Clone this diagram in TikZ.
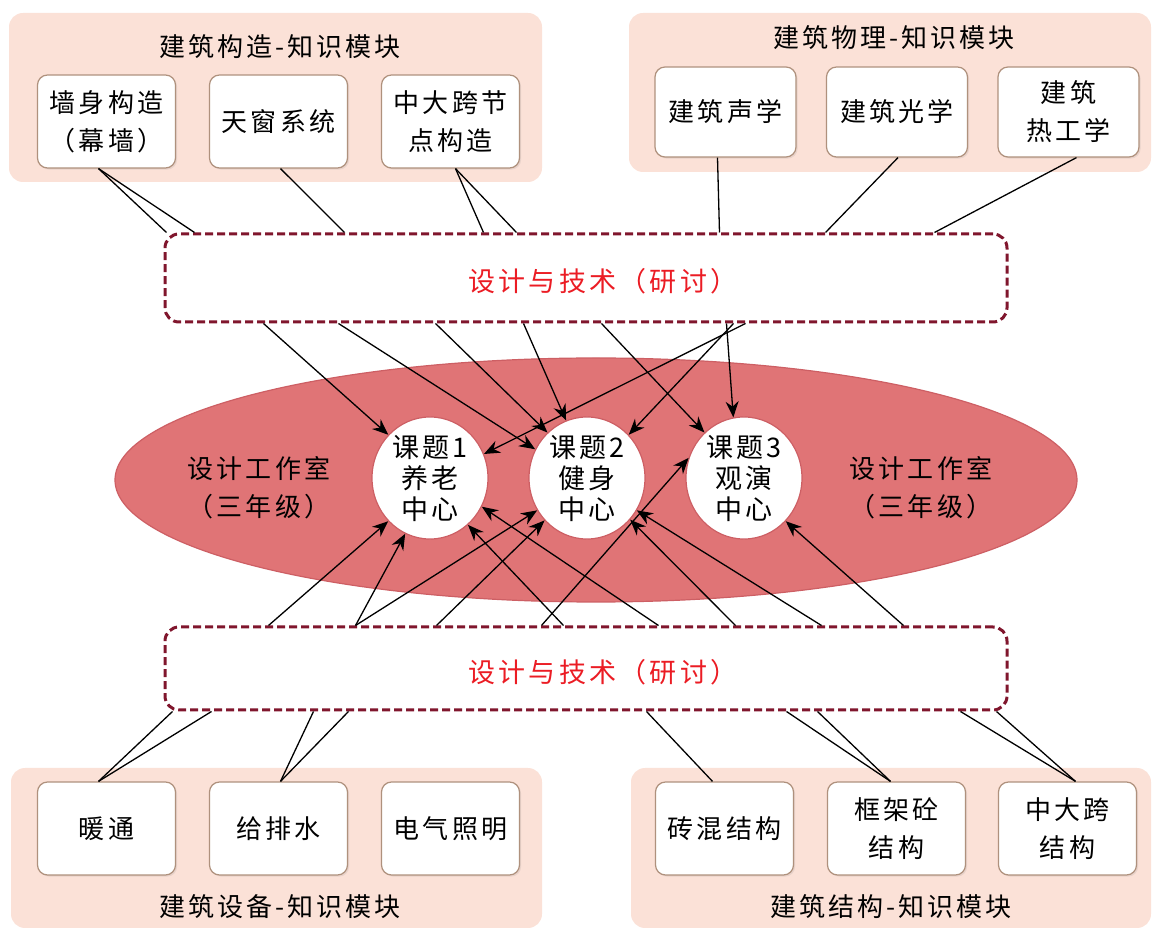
\documentclass[tikz,border=0pt]{standalone}
\usepackage{fontspec}
\setmainfont{Noto Sans CJK SC}[LetterSpace=12]
\usetikzlibrary{arrows.meta,shapes.geometric,shadows}
\definecolor{modpink}{RGB}{251,225,215}
\definecolor{boxedge}{RGB}{175,145,125}
\definecolor{seminarred}{RGB}{128,22,45}
\definecolor{studiored}{RGB}{224,116,118}
\definecolor{studioedge}{RGB}{205,95,100}
\definecolor{talkred}{RGB}{235,28,36}

\begin{document}
\begin{tikzpicture}[x=0.5pt,y=-0.5pt,
    font=\fontsize{13pt}{19pt}\selectfont,
    module/.style={fill=modpink,rounded corners=7pt},
    subject/.style={draw=boxedge,fill=white,line width=0.6pt,rounded corners=5pt,
        minimum width=69pt,minimum height=46.5pt,align=center,inner sep=1pt,
        drop shadow={opacity=0.15,shadow xshift=0.8pt,shadow yshift=-0.8pt}},
    project/.style={ellipse,draw=studioedge,fill=white,line width=0.6pt,
        minimum width=58pt,minimum height=60pt,inner sep=0pt,align=center,
        font=\fontsize{13.5pt}{15.5pt}\selectfont},
    seminar/.style={draw=seminarred,line width=1.5pt,dash pattern=on 4pt off 2pt,
        rounded corners=7pt,minimum width=421pt},
    talk/.style={text=talkred,font=\fontsize{13.5pt}{19pt}\selectfont},
    link/.style={line width=0.65pt},
    toproj/.style={link,-{Stealth[length=8pt,width=6.5pt]}}]
    \useasboundingbox (0,0) rectangle (1153,930);
    \fill[module] (9,13) rectangle (542,182);
    \fill[module] (629,13) rectangle (1151,172);
    \fill[module] (11,768) rectangle (542,928);
    \fill[module] (631,768) rectangle (1151,928);
    \node (tConstr) at (280,47) {建筑构造-知识模块};
    \node (tPhys) at (894,38) {建筑物理-知识模块};
    \node (tEquip) at (280,907) {建筑设备-知识模块};
    \node (tStruct) at (891,907) {建筑结构-知识模块};
    \node[subject] (wall) at (106.5,121.5) {墙身构造\\（幕墙）};
    \node[subject] (skylight) at (278.5,121.5) {天窗系统};
    \node[subject] (joint) at (450.5,121.5) {中大跨节\\点构造};
    \node[subject,minimum width=70.5pt,minimum height=45pt] (acoustic) at (725.5,112) {建筑声学};
    \node[subject,minimum width=70.5pt,minimum height=45pt] (daylight) at (897,112) {建筑光学};
    \node[subject,minimum width=70.5pt,minimum height=45pt] (thermal) at (1068.5,112) {建筑\\热工学};
    \node[subject] (hvac) at (106.5,828.5) {暖通};
    \node[subject] (water) at (278.5,828.5) {给排水};
    \node[subject] (elec) at (450.5,828.5) {电气照明};
    \node[subject] (brick) at (724.5,828.5) {砖混结构};
    \node[subject] (frame) at (896.5,828.5) {框架砼\\结构};
    \node[subject] (bigspan) at (1067.5,828.5) {中大跨\\结构};
    \node[ellipse,fill=studiored,draw=studioedge,line width=0.6pt,inner sep=0pt,
        minimum width=481pt,minimum height=122pt] (studio) at (596,480) {};
    \node[align=center] (studioW) at (259,488) {设计工作室\\（三年级）};
    \node[align=center] (studioE) at (921,488) {设计工作室\\（三年级）};
    \node[project] (p1) at (430,478) {课题1\\养老\\中心};
    \node[project] (p2) at (587,478) {课题2\\健身\\中心};
    \node[project] (p3) at (744,478) {课题3\\观演\\中心};
    \node[seminar,minimum height=44pt] (dsgU) at (586,278) {};
    \node[seminar,minimum height=41.5pt] (dsgL) at (586,668.5) {};
    \node[talk] (talkU) at (603,281) {设计与技术（研讨）};
    \node[talk] (talkL) at (603,672) {设计与技术（研讨）};
    \foreach \a/\d/\s in {wall/-4/1.5,wall/-4/15.5,skylight/1/90.5,joint/2.5/160,joint/2.5/176.5,
        acoustic/-4/278,daylight/0.5/331,thermal/4/385.5}
    {
    \draw[link] ([xshift=\d pt]\a.south) -- ([xshift=\s pt]dsgU.north west);
    }
    \foreach \a/\d/\s in {hvac/-4/4.5,hvac/-4/24,water/1/75,water/1/92.5,brick/-6/241.5,
        frame/-3/311.5,frame/-3/327,bigspan/4/398.5,bigspan/4/416.5}
    {
    \draw[link] ([xshift=\d pt]\a.north) -- ([xshift=\s pt]dsgL.south west);
    }
    \foreach \s/\t in {50/p1.134,87.5/p2.151,136/p2.131,180/p2.110,219/p3.131,
        281.5/p3.100,285/p2.46,291/p1.24}
    {
    \draw[toproj] ([xshift=\s pt]dsgU.south west) -- (\t);
    }
    \foreach \s/\t in {52.5/p1.226,96/p1.246,96/p2.213,136.5/p2.225,200/p1.309,
        189/p3.160,247.5/p1.331,286/p2.316,329/p2.327,370/p3.314}
    {
    \draw[toproj] ([xshift=\s pt]dsgL.north west) -- (\t);
    }
\end{tikzpicture}
\end{document}
